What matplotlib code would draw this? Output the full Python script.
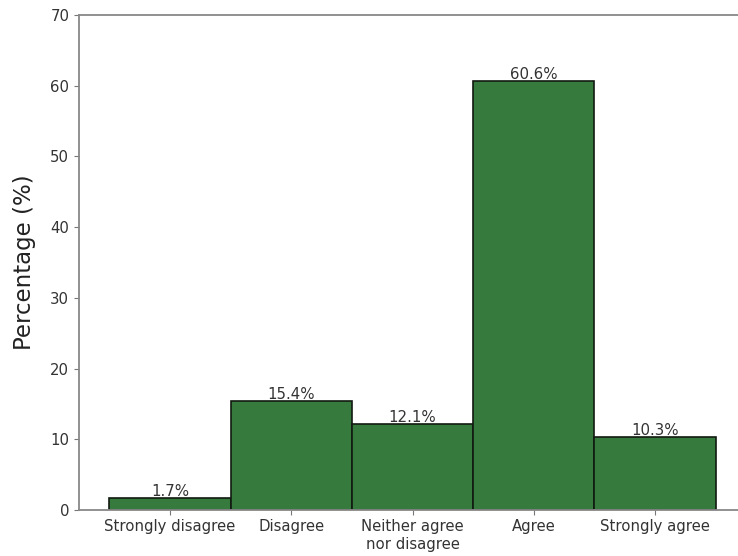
import matplotlib
matplotlib.use("Agg")
import matplotlib.pyplot as plt

categories = ["Strongly disagree", "Disagree", "Neither agree\nnor disagree", "Agree", "Strongly agree"]
percentages = [1.7, 15.4, 12.1, 60.6, 10.3]
yticks = [0, 10, 20, 30, 40, 50, 60, 70]

fig = plt.figure(figsize=(7.38, 5.56), dpi=100)
ax = fig.add_axes([79 / 738, 1 - 510 / 556, (746 - 79) / 738, (510 - 15) / 556])

x = range(len(categories))
bars = ax.bar(x, percentages, width=1.0, color="#367a3e", edgecolor="#111a11", linewidth=1.2)

for xi, v in zip(x, percentages):
    ax.text(xi, v - 0.1, f"{v}%", ha="center", va="bottom", fontsize=10.8, color="#333333")

ax.set_xlim(-0.75, 4.75)
ax.set_ylim(0, 70)
ax.set_yticks(yticks)
ax.set_xticks(list(x))
ax.set_xticklabels(categories, fontsize=10.7, color="#333333", linespacing=1.25)
ax.tick_params(axis="y", labelsize=10.7, labelcolor="#333333", color="#777777")
ax.tick_params(axis="x", color="#777777", pad=3)
ax.set_ylabel("Percentage (%)", fontsize=16.5, color="#222222", labelpad=10)

for side in ["left", "bottom", "top", "right"]:
    ax.spines[side].set_color("#888888")
    ax.spines[side].set_linewidth(1.3)

fig.savefig("out.png", dpi=100)
